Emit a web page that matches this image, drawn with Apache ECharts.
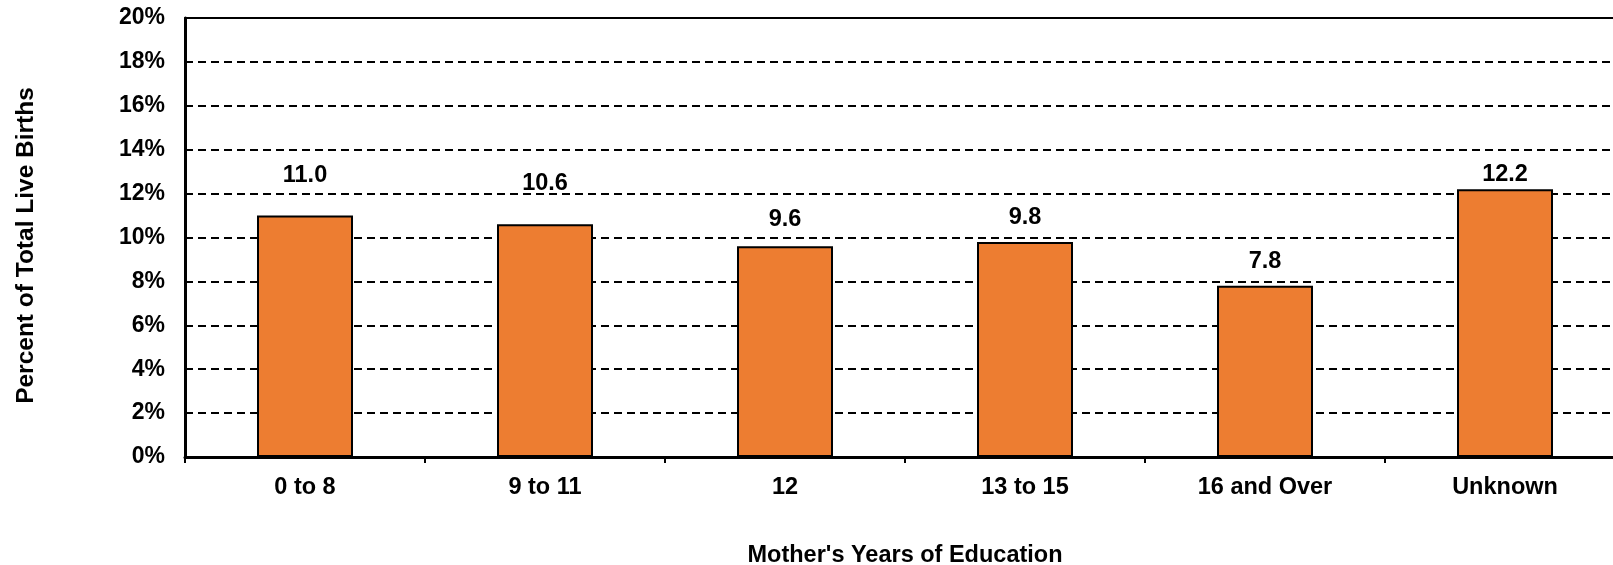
<!DOCTYPE html>
<html><head><meta charset="utf-8">
<script src="https://cdn.jsdelivr.net/npm/echarts@6/dist/echarts.min.js"></script>
<style>html,body{margin:0;padding:0;background:#fff}#c{width:1613px;height:565px}</style>
</head><body><div id="c"></div>
<script>
const categories = ["0 to 8", "9 to 11", "12", "13 to 15", "16 and Over", "Unknown"];
const values = [11.0, 10.6, 9.6, 9.8, 7.8, 12.2];
const yTicks = [0, 2, 4, 6, 8, 10, 12, 14, 16, 18, 20];
const yAxisTitle = "Percent of Total Live Births";
const xAxisTitle = "Mother's Years of Education";

const FONT = '"Liberation Sans", Arial, sans-serif';
// label gap above each bar (style only, as placed in the original)
const labelGap = [28, 29, 15, 12, 12, 3];
const chart = echarts.init(document.getElementById('c'), null, {renderer: 'canvas'});
chart.setOption({
  animation: false,
  backgroundColor: '#fff',
  grid: {left: 185, right: -12, top: 18, bottom: 108, containLabel: false, outerBoundsMode: 'none'},
  xAxis: [{
    type: 'category', data: categories, position: 'bottom',
    axisLine: {lineStyle: {color: '#000', width: 3}},
    axisTick: {show: true, length: 6, lineStyle: {color: '#000', width: 2}},
    axisLabel: {color: '#000', fontFamily: FONT, fontWeight: 'bold', fontSize: 23.5, margin: 19},
    name: xAxisTitle, nameLocation: 'middle', nameGap: 87,
    nameTextStyle: {color: '#000', fontFamily: FONT, fontWeight: 'bold', fontSize: 23.5}
  }, {
    type: 'category', data: categories, position: 'top',
    axisLine: {lineStyle: {color: '#000', width: 2}},
    axisTick: {show: false}, axisLabel: {show: false}
  }],
  yAxis: {
    type: 'value', min: yTicks[0], max: yTicks[yTicks.length - 1], interval: 2,
    axisLine: {show: true, lineStyle: {color: '#000', width: 3}},
    axisTick: {show: false},
    axisLabel: {color: '#000', fontFamily: FONT, fontWeight: 'bold', fontSize: 23, margin: 20,
      formatter: v => v + '%'},
    splitLine: {show: true, lineStyle: {color: '#000', width: 2, type: [8, 5]}},
    name: yAxisTitle, nameLocation: 'middle', nameGap: 146, nameRotate: 90,
    nameTextStyle: {color: '#000', fontFamily: FONT, fontWeight: 'bold', fontSize: 24.5,
      padding: [0, 16, 0, 0]}
  },
  series: [{
    type: 'bar', xAxisIndex: 0, barWidth: '40%',
    data: values.map((v, i) => ({value: v, label: {distance: labelGap[i]}})),
    itemStyle: {color: '#ED7D31', borderColor: '#000', borderWidth: 2},
    label: {show: true, position: 'top', color: '#000', fontFamily: FONT,
      fontWeight: 'bold', fontSize: 23.5, formatter: p => p.value.toFixed(1)}
  }]
});
</script></body></html>
